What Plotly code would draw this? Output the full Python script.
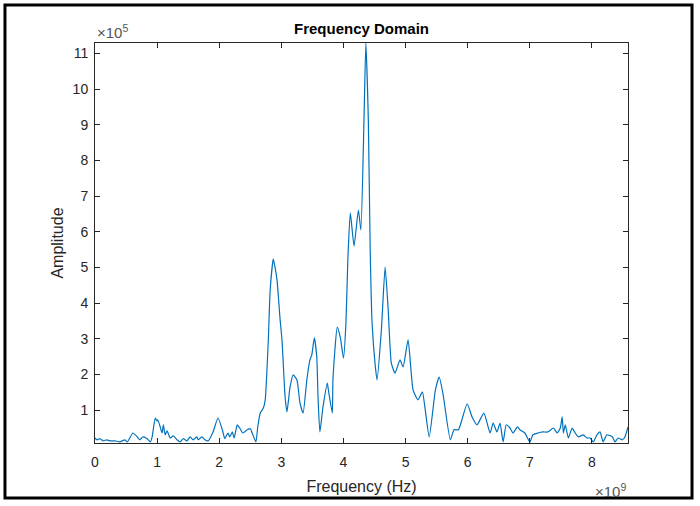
import numpy as np
import plotly.graph_objects as go

# Frequency in GHz (x 1e9 Hz) and amplitude in units of 1e5
freq_ghz = [0.00, 0.03, 0.08, 0.13, 0.19, 0.24, 0.32, 0.40, 0.48, 0.52, 0.61, 0.68, 0.72, 0.77, 0.84, 0.89, 0.92, 0.97, 1.00, 1.01,
            1.05, 1.08, 1.10, 1.13, 1.16, 1.21, 1.26, 1.32, 1.37, 1.42, 1.48, 1.53, 1.58, 1.64, 1.66, 1.72, 1.77, 1.82, 1.90, 1.98,
            2.05, 2.09, 2.14, 2.17, 2.21, 2.24, 2.29, 2.33, 2.38, 2.45, 2.50, 2.53, 2.59, 2.62, 2.66, 2.71, 2.74, 2.79, 2.82, 2.87,
            2.90, 2.93, 2.98, 3.01, 3.06, 3.09, 3.14, 3.19, 3.25, 3.30, 3.35, 3.41, 3.46, 3.49, 3.53, 3.57, 3.59, 3.62, 3.67, 3.74,
            3.75, 3.82, 3.83, 3.90, 3.95, 4.00, 4.04, 4.07, 4.11, 4.17, 4.24, 4.28, 4.33, 4.36, 4.40, 4.43, 4.46, 4.51, 4.54, 4.61,
            4.67, 4.72, 4.77, 4.83, 4.91, 4.96, 5.04, 5.12, 5.20, 5.27, 5.31, 5.38, 5.48, 5.54, 5.60, 5.72, 5.78, 5.85, 5.99, 6.07,
            6.15, 6.26, 6.36, 6.41, 6.47, 6.52, 6.57, 6.62, 6.68, 6.73, 6.80, 6.84, 6.92, 7.00, 7.05, 7.13, 7.21, 7.29, 7.38, 7.44,
            7.49, 7.52, 7.54, 7.57, 7.62, 7.68, 7.73, 7.78, 7.86, 7.92, 7.97, 8.02, 8.08, 8.13, 8.18, 8.24, 8.33, 8.37, 8.42, 8.49,
            8.53, 8.58]
amp_e5 = [0.22, 0.17, 0.20, 0.14, 0.17, 0.14, 0.14, 0.11, 0.17, 0.11, 0.36, 0.25, 0.17, 0.25, 0.20, 0.11, 0.25, 0.78, 0.70, 0.73,
          0.53, 0.36, 0.59, 0.31, 0.42, 0.22, 0.28, 0.17, 0.11, 0.20, 0.14, 0.25, 0.17, 0.25, 0.17, 0.25, 0.17, 0.14, 0.39, 0.78,
          0.45, 0.20, 0.36, 0.25, 0.39, 0.22, 0.59, 0.50, 0.36, 0.45, 0.48, 0.36, 0.11, 0.53, 0.92, 1.06, 1.29, 2.97, 4.37, 5.24,
          4.99, 4.65, 3.53, 2.97, 1.37, 0.95, 1.65, 1.99, 1.85, 1.20, 0.92, 1.85, 2.41, 2.55, 3.03, 2.49, 1.37, 0.39, 1.09, 1.76,
          1.65, 0.92, 1.85, 3.33, 3.03, 2.46, 3.45, 5.21, 6.53, 5.60, 6.61, 6.05, 9.13, 11.29, 9.13, 5.49, 3.45, 2.27, 1.85, 3.25,
          5.01, 3.81, 2.32, 2.04, 2.41, 2.21, 2.97, 1.57, 1.29, 1.51, 1.09, 0.25, 1.57, 1.93, 1.48, 0.17, 0.45, 0.45, 1.18, 0.81,
          0.59, 0.92, 0.36, 0.64, 0.39, 0.64, 0.11, 0.59, 0.50, 0.36, 0.53, 0.45, 0.36, 0.11, 0.31, 0.36, 0.39, 0.39, 0.50, 0.36,
          0.50, 0.81, 0.36, 0.59, 0.22, 0.50, 0.36, 0.25, 0.31, 0.22, 0.22, 0.11, 0.31, 0.39, 0.11, 0.31, 0.25, 0.11, 0.22, 0.17,
          0.25, 0.53]

x_ticks = [0, 1, 2, 3, 4, 5, 6, 7, 8]
y_ticks = [1, 2, 3, 4, 5, 6, 7, 8, 9, 10, 11]

x = np.array(freq_ghz) * 1e9
y = np.array(amp_e5) * 1e5

FONT = "Liberation Sans, Arial, Helvetica, sans-serif"
AX = "#262626"

fig = go.Figure()
fig.add_trace(go.Scatter(x=x, y=y, mode="lines",
                         line=dict(color="#0072BD", width=1.2, shape="spline", smoothing=0.5),
                         showlegend=False, hoverinfo="skip"))

fig.update_layout(
    width=700, height=506,
    margin=dict(l=95, r=72, t=43, b=63),
    paper_bgcolor="white", plot_bgcolor="white",
    font=dict(family=FONT, color=AX, size=14),
    xaxis=dict(range=[0, 8.58e9], tickvals=[v * 1e9 for v in x_ticks], ticktext=[str(v) for v in x_ticks],
               ticks="inside", ticklen=5, tickcolor=AX, showline=True, linecolor=AX, linewidth=1,
               mirror="allticks", showgrid=False, zeroline=False, tickfont=dict(size=14, color=AX),
               ticklabelstandoff=6, automargin=False,
               title=dict(text="Frequency (Hz)", font=dict(size=16, color=AX), standoff=12)),
    yaxis=dict(range=[0.08e5, 11.29e5], tickvals=[v * 1e5 for v in y_ticks], ticktext=[str(v) for v in y_ticks],
               ticks="inside", ticklen=5, tickcolor=AX, showline=True, linecolor=AX, linewidth=1,
               mirror="allticks", showgrid=False, zeroline=False, tickfont=dict(size=14, color=AX),
               ticklabelstandoff=3, automargin=False,
               title=dict(text="Amplitude", font=dict(size=16, color=AX), standoff=5)),
)

fig.add_annotation(text="<b>Frequency Domain</b>", xref="paper", yref="paper", x=0.5, y=1.0,
                   yanchor="middle", yshift=15, showarrow=False, font=dict(size=15, color="black", family=FONT))
fig.add_annotation(text="×10<sup>5</sup>", xref="paper", yref="paper", x=0.0, y=1.0, xanchor="left",
                   yanchor="bottom", showarrow=False, font=dict(size=15, color="#555555", family=FONT))
fig.add_annotation(text="×10<sup>9</sup>", xref="paper", yref="paper", x=1.0, y=-0.1175, xanchor="right",
                   yanchor="middle", showarrow=False, font=dict(size=15, color="#555555", family=FONT))

fig.add_shape(type="rect", xref="paper", yref="paper", x0=-0.1689, x1=1.1201, y0=-0.1375, y1=1.095,
              line=dict(color="black", width=3), fillcolor="rgba(0,0,0,0)", layer="above")

fig.write_html("out.html", config={"displayModeBar": False},
               post_script="document.body.style.margin='0';")
